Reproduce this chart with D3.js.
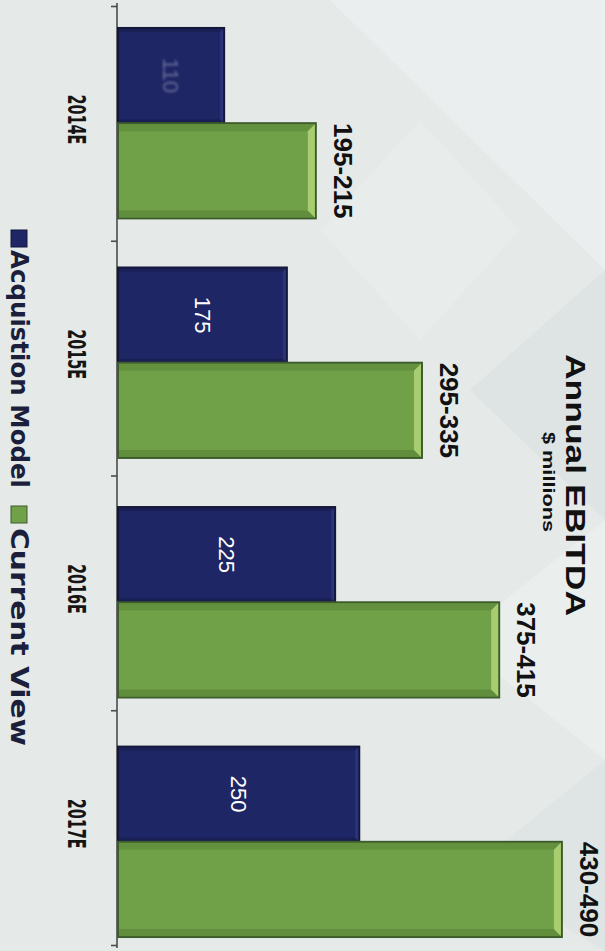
<!DOCTYPE html>
<html>
<head>
<meta charset="utf-8">
<script src="https://cdn.jsdelivr.net/npm/d3@7"></script>
<style>
  html, body { margin: 0; padding: 0; background: #e5eae9; }
  svg { display: block; }
  text { font-family: "Liberation Sans", Arial, sans-serif; }
  .narrow { font-family: "Liberation Sans Narrow", "DejaVu Sans Condensed", "Liberation Sans", sans-serif; }
</style>
</head>
<body>
<svg id="chart" width="605" height="951"></svg>
<script>
// Annual EBITDA, $ millions (chart laid out rotated a quarter turn clockwise)
const categories = ["2014E", "2015E", "2016E", "2017E"];
const acquisitionModel = [110, 175, 225, 250];
const currentViewLow = [195, 295, 375, 430];
const currentViewHigh = [215, 335, 415, 490];
const seriesNames = ["Acquistion Model", "Current View"];

const W = 605, H = 951;
const svg = d3.select("#chart");

// soft marbled background with faint diamond facets
const bg = svg.append("g");
bg.append("rect").attr("width", W).attr("height", H).attr("fill", "#e5eae9");
const facets = [
  { pts: [[330, 0], [605, 0], [605, 270]], fill: "#ffffff", op: 0.22 },
  { pts: [[605, 270], [470, 390], [605, 520]], fill: "#c9d2d2", op: 0.25 },
  { pts: [[605, 520], [455, 640], [605, 760]], fill: "#ffffff", op: 0.2 },
  { pts: [[605, 760], [470, 870], [605, 951]], fill: "#c9d2d2", op: 0.2 },
  { pts: [[420, 120], [520, 230], [420, 340], [320, 230]], fill: "#ffffff", op: 0.12 }
];
bg.selectAll("polygon").data(facets).join("polygon")
  .attr("points", d => d.pts.map(p => p.join(",")).join(" "))
  .attr("fill", d => d.fill).attr("opacity", d => d.op);

const data = categories.map((c, i) => ({
  cat: c,
  acq: acquisitionModel[i],
  lo: currentViewLow[i],
  hi: currentViewHigh[i],
  mid: (currentViewLow[i] + currentViewHigh[i]) / 2
}));

// value axis runs left to right, categories top to bottom
const x = d3.scaleLinear().domain([0, 500]).range([118, 600.5]);
const y0 = d3.scaleBand().domain(categories).range([4, 961]).paddingInner(0.205).paddingOuter(0.1);
const y1 = d3.scaleBand().domain(seriesNames).range([0, y0.bandwidth()]);
const yTick = d3.scaleBand().domain(categories).range([6, 945]).padding(0);

const colors = {
  "Acquistion Model": { fill: "#1f2666", edge: "#131739", light: "#2c3479", dark: "#181d50" },
  "Current View": { fill: "#70a047", edge: "#3d5c2b", light: "#a8cd70", dark: "#5e8a3b" }
};

// category axis (vertical line with boundary ticks on the left)
const axisX = 117;
const ax = svg.append("g").attr("transform", `translate(${axisX},0)`)
  .call(d3.axisLeft(d3.scaleLinear().domain([0, 4]).range([6, 945])).ticks(4).tickSize(6).tickFormat(""));
ax.select(".domain").attr("stroke", "#4b4b4b").attr("stroke-width", 1.6)
  .attr("d", "M0,3V948");
ax.selectAll(".tick line").attr("stroke", "#4b4b4b").attr("stroke-width", 1.6);

// bevelled bar
function bevelBar(g, x0, x1, yy, h, c, bev) {
  g.append("rect").attr("x", x0).attr("y", yy).attr("width", x1 - x0).attr("height", h)
    .attr("fill", c.fill).attr("stroke", c.edge).attr("stroke-width", 2);
  // top and bottom bevel strips
  g.append("polygon").attr("fill", c.dark).attr("opacity", 0.7)
    .attr("points", [[x0 + 1, yy + 1], [x1 - 1, yy + 1], [x1 - bev, yy + bev], [x0 + 1, yy + bev]].join(" "));
  g.append("polygon").attr("fill", c.dark).attr("opacity", 0.8)
    .attr("points", [[x0 + 1, yy + h - 1], [x1 - 1, yy + h - 1], [x1 - bev, yy + h - bev], [x0 + 1, yy + h - bev]].join(" "));
  // lit end face
  g.append("polygon").attr("fill", c.light)
    .attr("points", [[x1 - 1, yy + 1], [x1 - bev, yy + bev], [x1 - bev, yy + h - bev], [x1 - 1, yy + h - 1]].join(" "));
}

const groups = svg.append("g").selectAll("g").data(data).join("g")
  .attr("transform", d => `translate(0,${y0(d.cat)})`);

groups.each(function (d) {
  const g = d3.select(this);
  bevelBar(g, x(0), x(d.acq), y1("Acquistion Model"), y1.bandwidth(), colors["Acquistion Model"], 4);
  bevelBar(g, x(0), x(d.mid), y1("Current View"), y1.bandwidth(), colors["Current View"], 8);
});

// white values inside the navy bars
groups.append("text")
  .attr("transform", d => `translate(${(x(0) + x(d.acq)) / 2},${y1("Acquistion Model") + y1.bandwidth() / 2}) rotate(90)`)
  .attr("text-anchor", "middle").attr("dy", "0.35em")
  .attr("fill", "#ffffff").attr("font-size", 22)
  .attr("opacity", (d, i) => i === 0 ? 0.3 : 1)
  .attr("filter", (d, i) => i === 0 ? "blur(1.2px)" : null)
  .text(d => d.acq);

// range labels past the green bars
groups.append("text")
  .attr("transform", d => `translate(${x(d.mid) + 18},${y1("Current View") + y1.bandwidth() / 2}) rotate(90)`)
  .attr("text-anchor", "middle")
  .attr("fill", "#111").attr("font-size", 26).attr("font-weight", "bold")
  .text(d => `${d.lo}-${d.hi}`);

// category labels
svg.append("g").selectAll("text").data(categories).join("text")
  .attr("class", "narrow")
  .attr("transform", d => `translate(68,${yTick(d) + yTick.bandwidth() / 2 - 4}) rotate(90)`)
  .attr("text-anchor", "middle")
  .attr("fill", "#151515").attr("font-size", 25).attr("font-weight", "bold")
  .attr("textLength", 50).attr("lengthAdjust", "spacingAndGlyphs")
  .text(d => d);

// title
svg.append("text")
  .attr("transform", "translate(566,485) rotate(90)")
  .attr("text-anchor", "middle").attr("fill", "#111")
  .attr("font-size", 27).attr("font-weight", "bold")
  .attr("textLength", 262).attr("lengthAdjust", "spacingAndGlyphs")
  .text("Annual EBITDA");
svg.append("text")
  .attr("transform", "translate(543,482) rotate(90)")
  .attr("text-anchor", "middle").attr("fill", "#111")
  .attr("font-size", 17).attr("font-weight", "bold")
  .attr("textLength", 100).attr("lengthAdjust", "spacingAndGlyphs")
  .text("$ millions");

// legend
const legend = svg.append("g");
const legendItems = [
  { name: "Acquistion Model", sq: 230, tx: 250, len: 238 },
  { name: "Current View", sq: 506, tx: 528, len: 218 }
];
legend.selectAll("rect").data(legendItems).join("rect")
  .attr("x", 11).attr("y", d => d.sq).attr("width", 16).attr("height", 17)
  .attr("fill", d => colors[d.name].fill).attr("stroke", d => colors[d.name].edge).attr("stroke-width", 1);
legend.selectAll("text").data(legendItems).join("text")
  .attr("class", "narrow")
  .attr("transform", d => `translate(11,${d.tx}) rotate(90)`)
  .attr("fill", "#1b1f3b").attr("font-size", 25).attr("font-weight", "bold")
  .attr("textLength", d => d.len).attr("lengthAdjust", "spacingAndGlyphs")
  .text(d => d.name);
</script>
</body>
</html>
